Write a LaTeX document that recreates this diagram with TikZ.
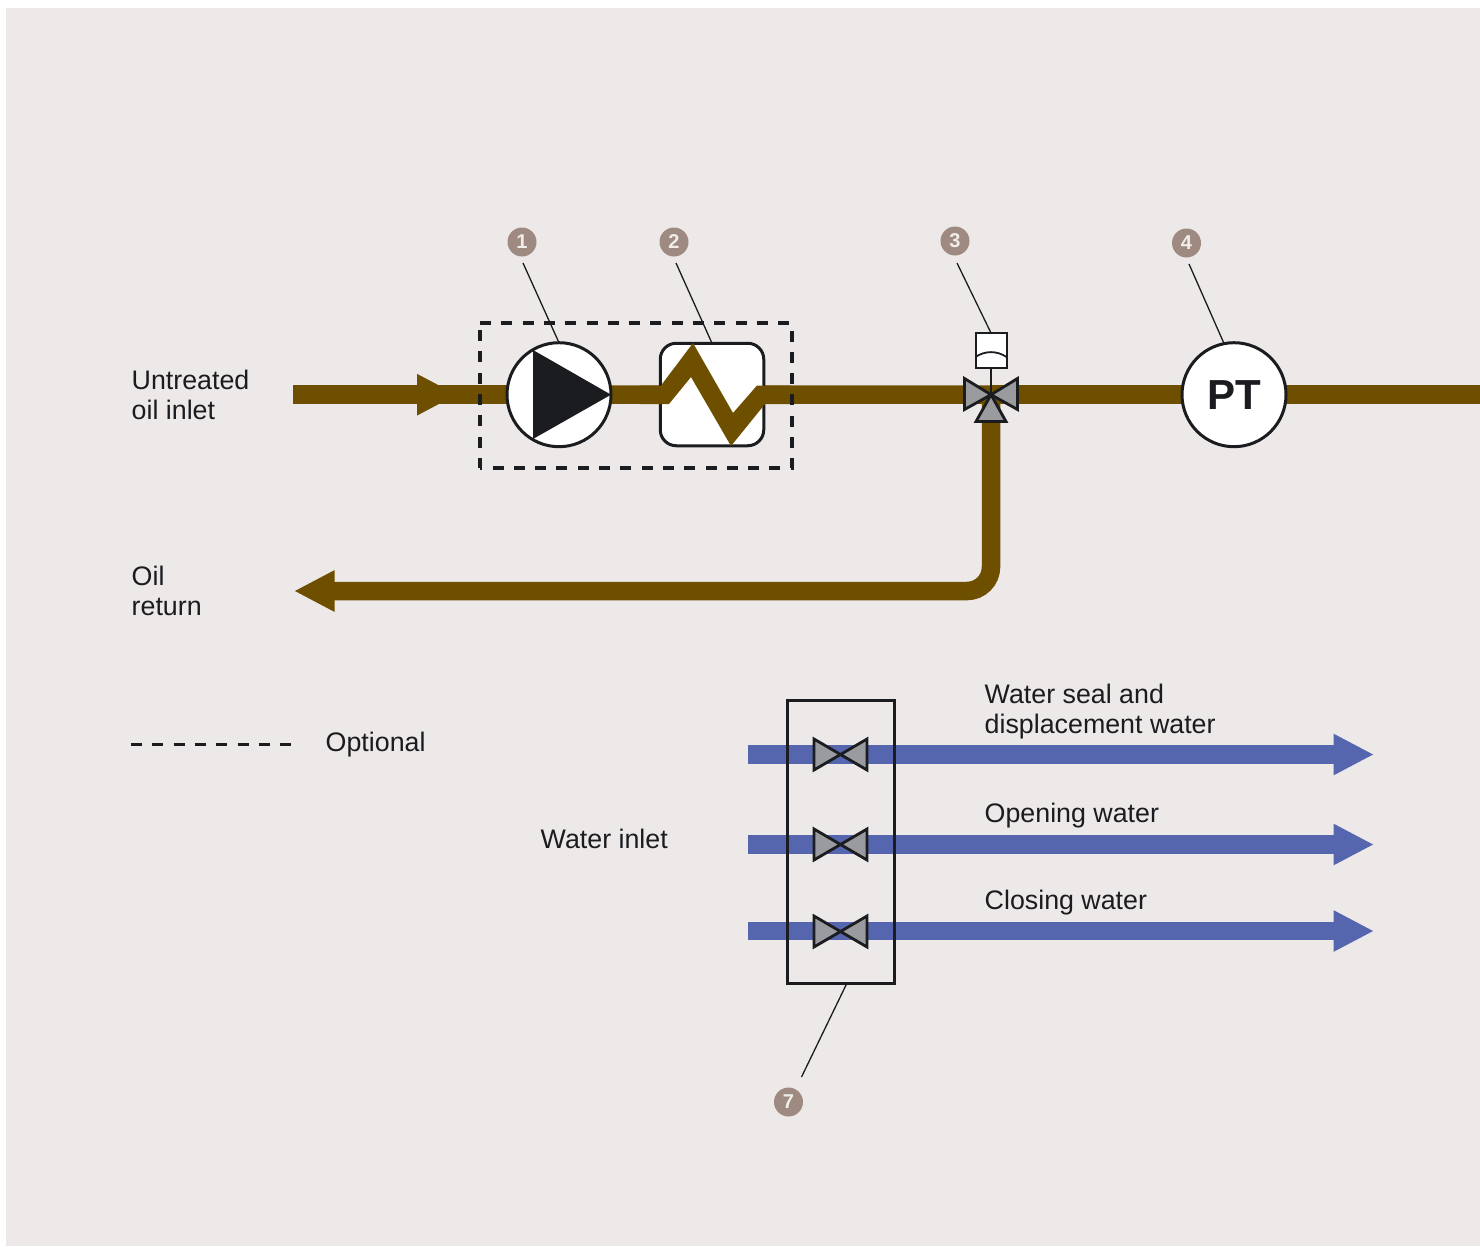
\documentclass[tikz,border=0pt]{standalone}
\usepackage{fontspec}
\setmainfont{Liberation Sans}
\usetikzlibrary{arrows.meta}
\definecolor{panel}{HTML}{EDE9E8}
\definecolor{oil}{HTML}{6E4F00}
\definecolor{water}{HTML}{5666AE}
\definecolor{ink}{HTML}{1B1C20}
\definecolor{valvegrey}{HTML}{9A9B9F}
\definecolor{badge}{HTML}{9E8A80}
\definecolor{badgetext}{HTML}{F1EDEA}
\pgfdeclarelayer{pipes}
\pgfsetlayers{pipes,main}
\tikzset{
  oilpipe/.style={draw=oil,line width=18.5pt},
  waterpipe/.style={draw=water,line width=18.5pt},
  bigtip/.style={-{Triangle[length=40.5pt,width=38.5pt]}},
  symbol/.style={draw=ink,line width=3pt,fill=white,inner sep=0pt,outer sep=0pt},
  valvepart/.style={draw=ink,line width=2.8pt,fill=valvegrey,line join=miter},
  leader/.style={draw=ink,line width=1.3pt},
  callout/.style={circle,fill=badge,text=badgetext,minimum size=29pt,inner sep=0pt,font=\fontsize{20}{20}\selectfont\bfseries},
  label/.style={anchor=west,align=left,inner sep=0pt,text=ink,font=\fontsize{26.8}{30}\selectfont},
  optdash/.style={draw=ink,line width=3.2pt,dash pattern=on 11pt off 10.3pt},
}
\begin{document}
\begin{tikzpicture}[x=1pt,y=-1pt]
\useasboundingbox (0,0) rectangle (1480,1247);
\begin{pgfonlayer}{pipes}
\fill[white] (0,0) rectangle (1480,1247);
\fill[panel] (6,8) rectangle (1480,1246);
\end{pgfonlayer}

% free pipe ends
\coordinate (inlet) at (293,394.7);
\coordinate (inlettip) at (457.5,394.7);
\coordinate (outlet) at (1480,394.7);
\coordinate (returntip) at (294,591);
\coordinate (v3) at (991,394.7);
\coordinate (w1s) at (748,754.5);
\coordinate (w2s) at (748,844.5);
\coordinate (w3s) at (748,931);
\coordinate (w1e) at (1374,754.5);
\coordinate (w2e) at (1374,844.5);
\coordinate (w3e) at (1374,931);
\coordinate (g1) at (840.5,754.5);
\coordinate (g2) at (840.5,844.5);
\coordinate (g3) at (840.5,931.5);

% equipment
\node[symbol,circle,minimum size=104pt] (pump) at (559,394.7) {};
\node[symbol,rectangle,rounded corners=16pt,minimum width=103.5pt,minimum height=102.5pt] (heater) at (712,394.5) {};
\node[symbol,circle,minimum size=104pt,text=ink,font=\fontsize{42}{42}\selectfont\bfseries] (pt) at (1234,394.7) {PT};
\node[draw=ink,fill=white,line width=2pt,inner sep=0pt,outer sep=0pt,minimum width=31pt,minimum height=35pt] (actuator) at (991,350.5) {};
\node[draw=ink,line width=3pt,inner sep=0pt,outer sep=0pt,minimum width=107.5pt,minimum height=283pt] (manifold) at (840.8,841.5) {};
\node[inner sep=0pt,outer sep=0pt,minimum width=312pt,minimum height=145pt] (optbox) at (636,395.5) {};

% pipes
\begin{pgfonlayer}{pipes}
\draw[oilpipe] (inlet) -- (pump);
\draw[oilpipe,bigtip] (inlet) -- (inlettip);
\draw[oilpipe] (pump) -- (heater);
\draw[oilpipe] (heater) -- (v3);
\draw[oilpipe] (v3) -- (pt);
\draw[oilpipe] (pt) -- (outlet);
\draw[oilpipe,bigtip,rounded corners=24pt] (v3) |- (returntip);
\draw[waterpipe,bigtip] (w1s) -- (w1e);
\draw[waterpipe,bigtip] (w2s) -- (w2e);
\draw[waterpipe,bigtip] (w3s) -- (w3e);
\end{pgfonlayer}

% pump triangle
\fill[ink] (533,350) -- (533,439) -- (611,394.7) -- cycle;
% heater coil
\fill[oil] (640,385.5) -- (661,385.5) -- (693,343) -- (733,413) -- (757,385.5) -- (790,385.5)
  -- (790,404) -- (765,404) -- (731,446) -- (691,377) -- (669,404) -- (640,404) -- cycle;
% optional frame
\draw[optdash] (optbox.north west) -- (optbox.north east) -- (optbox.south east) -- (optbox.south west);
\draw[optdash,dash phase=14.3pt] (optbox.north west) -- (optbox.south west);

% three-way valve
\draw[ink,line width=2.8pt] (v3) -- (actuator.south);
\draw[draw=ink,line width=1.8pt] (975.5,357) .. controls (985,350.5) and (997,350.5) .. (1006.5,357);
\draw[valvepart] (v3) -- (976,421.5) -- (1006,421.5) -- (v3);
\draw[valvepart] (v3) -- (964.5,378.5) -- (964.5,409.5) -- (v3);
\draw[valvepart] (v3) -- (1017.5,378.5) -- (1017.5,409.5) -- (v3);

% water valves
\foreach \g in {g1,g2,g3}{
  \draw[valvepart] (\g) -- ++(-26.5,-15.5) -- ++(0,31) -- (\g);
  \draw[valvepart] (\g) -- ++(26.5,-15.5) -- ++(0,31) -- (\g);
}

% callouts
\node[callout] (c1) at (522,242) {1};
\node[callout] (c2) at (674,242) {2};
\node[callout] (c3) at (955,241) {3};
\node[callout] (c4) at (1186.5,243) {4};
\node[callout] (c7) at (788.5,1102) {7};
\coordinate (l1) at (523,263);
\coordinate (l2) at (676,263);
\coordinate (l3) at (957,263);
\coordinate (l4) at (1189,264);
\coordinate (l7) at (801.5,1077);
\coordinate (m7) at (847,983);
\draw[leader] (l1) -- (pump.north);
\draw[leader] (l2) -- (heater.north);
\draw[leader] (l3) -- (actuator.north);
\draw[leader] (l4) -- (pt.101);
\draw[leader] (l7) -- (m7);

% legend
\coordinate (dashA) at (131,744.7);
\coordinate (dashB) at (292,744.7);
\draw[optdash] (dashA) -- (dashB);

% labels
\node[label] (tInlet) at (131.5,395) {Untreated\\oil inlet};
\node[label] (tReturn) at (131.5,591) {Oil\\return};
\node[label] (tOpt) at (325.5,745) {Optional};
\node[label] (tWater) at (540.5,839) {Water inlet};
\node[label] (tSeal) at (984.5,712) {Water seal and\\displacement water};
\node[label] (tOpen) at (984.5,816) {Opening water};
\node[label] (tClose) at (984.5,903) {Closing water};
\end{tikzpicture}
\end{document}
